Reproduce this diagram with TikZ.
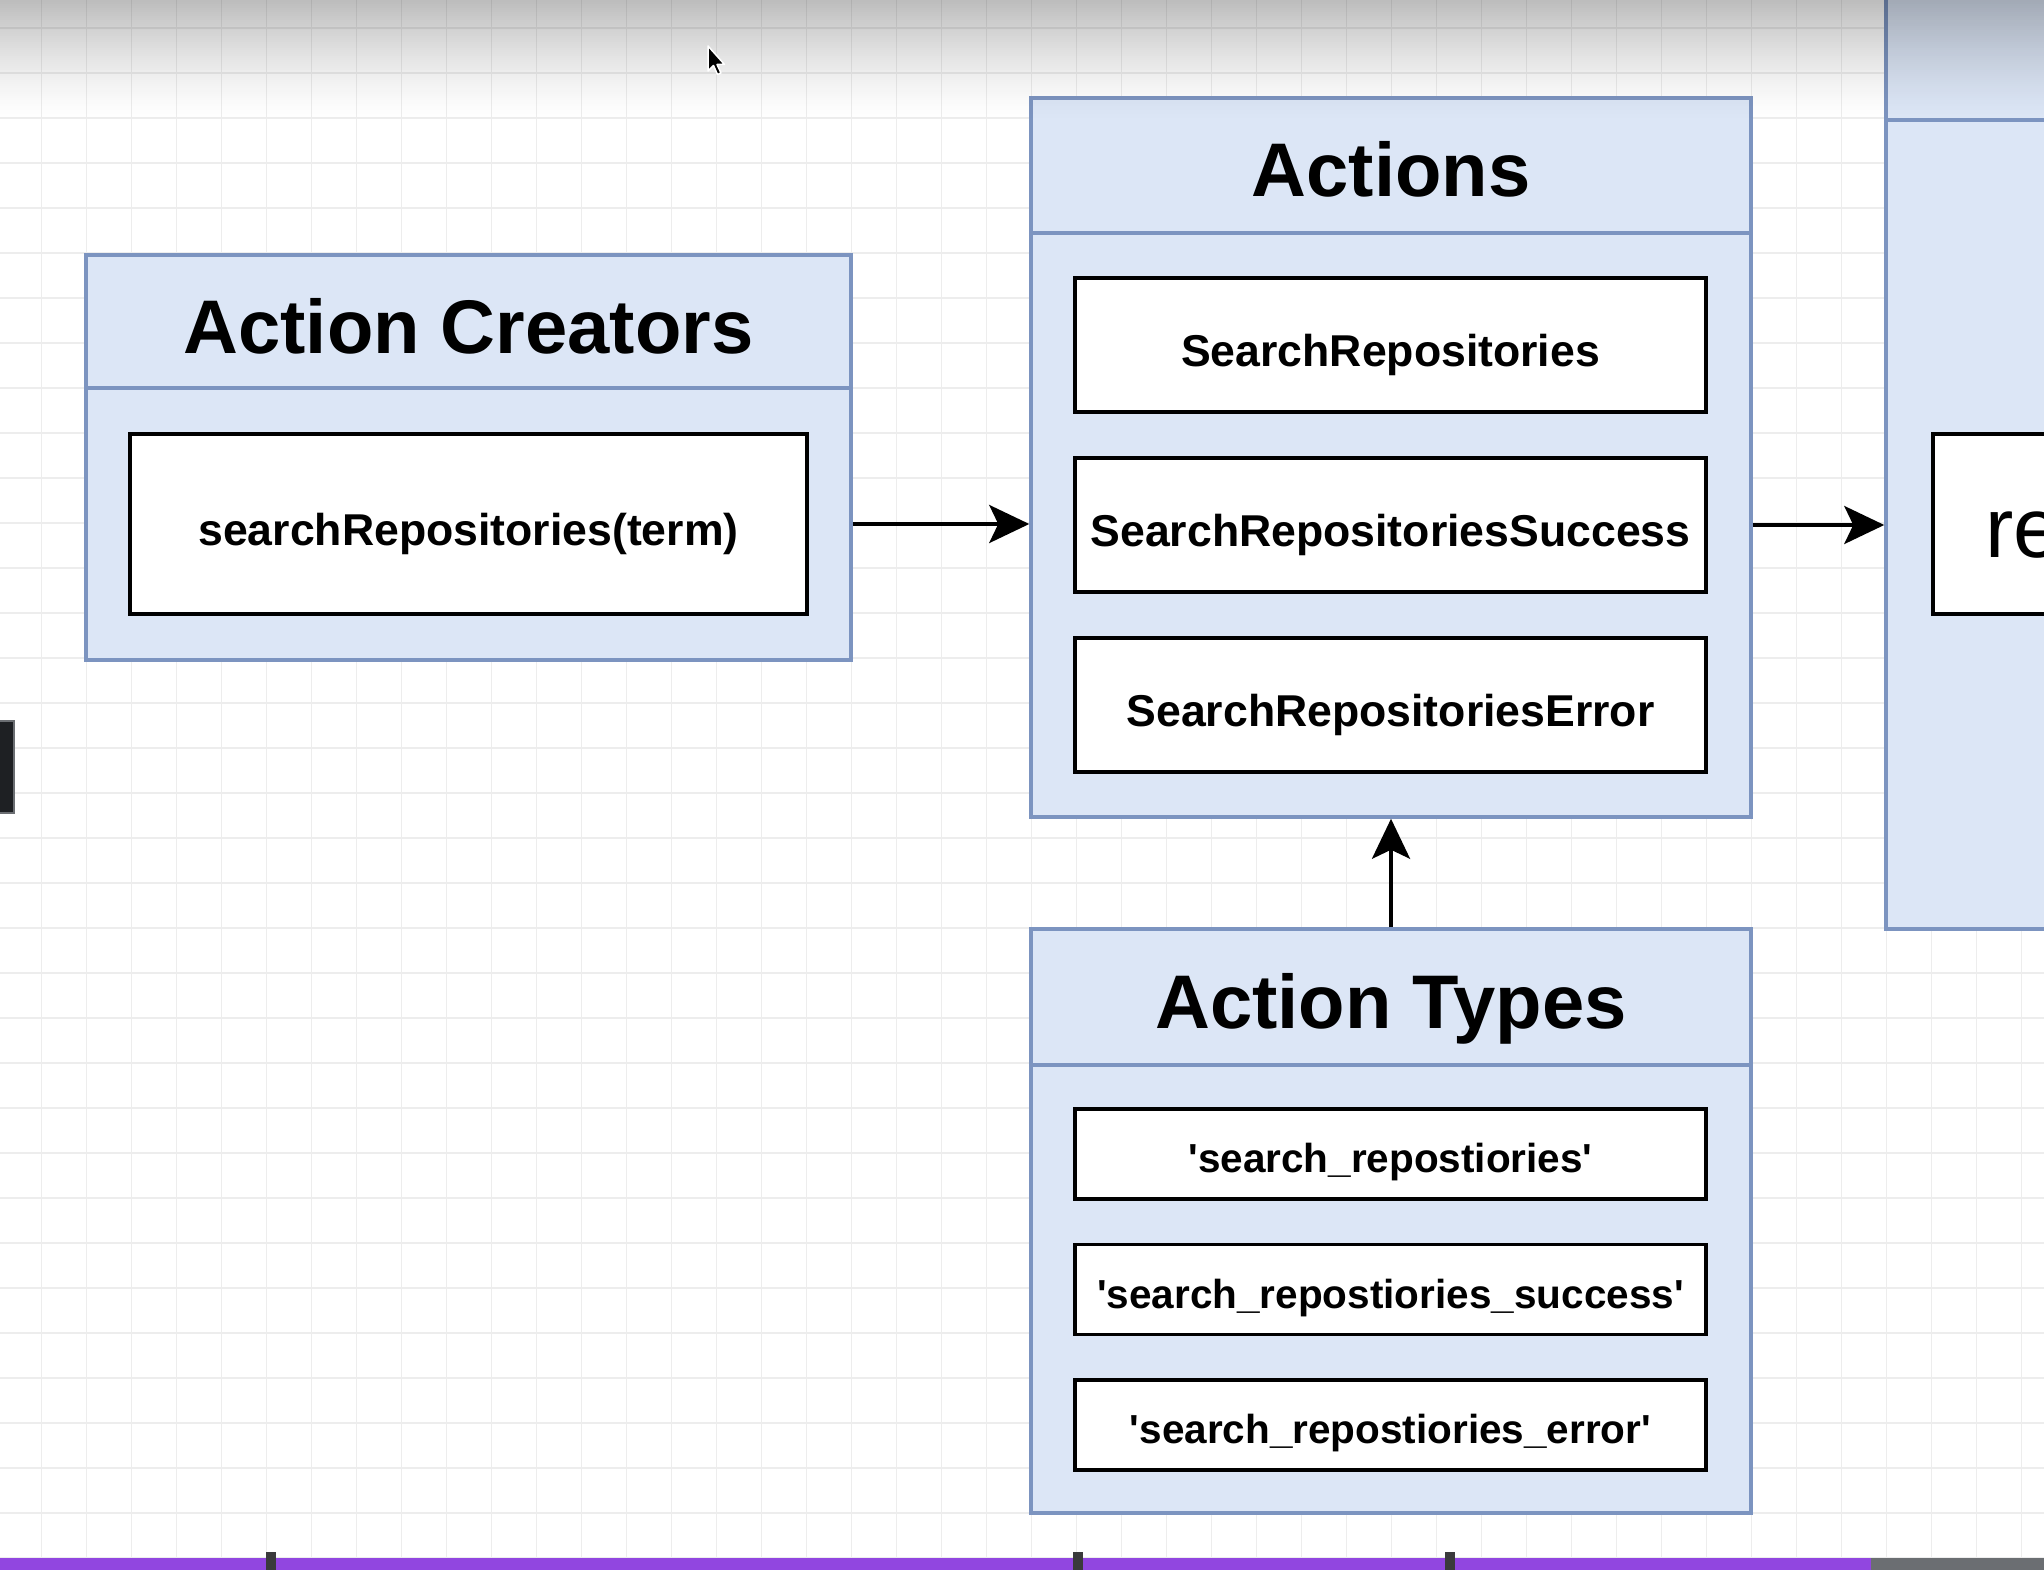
\documentclass[tikz,border=0pt]{standalone}
\usepackage{fontspec}
\setmainfont{Liberation Sans}[Ligatures=TeXOff]
\usetikzlibrary{arrows.meta}
\definecolor{boxfill}{HTML}{DCE6F6}
\definecolor{boxline}{HTML}{7C94C0}
\definecolor{gridc}{HTML}{EDEDED}
\definecolor{purplebar}{HTML}{9146E0}
\definecolor{barGray}{HTML}{6B6E72}
\definecolor{tickc}{HTML}{3A3A3C}
\definecolor{darkblk}{HTML}{1E2023}
\begin{document}
\begin{tikzpicture}[x=1pt,y=-1pt,
  panel/.style={draw=boxline, fill=boxfill, line width=3.5pt, inner sep=0pt, rectangle},
  header/.style={draw=boxline, line width=3.5pt, inner sep=0pt, text height=63pt, text depth=0pt, font=\fontsize{76}{80}\selectfont\bfseries},
  itembox/.style={draw=black, fill=white, line width=3.5pt, inner sep=0pt, text height=42pt, text depth=0pt, font=\fontsize{44.6}{50}\selectfont\bfseries},
  typebox/.style={itembox, text height=37pt, font=\fontsize{40.5}{46}\selectfont\bfseries},
  arr/.style={line width=3.5pt, -{Stealth[length=40pt,width=38pt,inset=9pt]}},
]
\useasboundingbox (0,0) rectangle (2044,1570);
\clip (0,0) rectangle (2044,1570);
\fill[white] (0,0) rectangle (2044,1570);
% grid
\foreach \k in {0,...,44} \draw[gridc, line width=1.5pt] ({41.7+45*\k},0) -- ({41.7+45*\k},1570);
\foreach \k in {0,...,34} \draw[gridc, line width=1.5pt] (0,{28+45*\k}) -- (2044,{28+45*\k});

% Action Creators
\node[panel, minimum width=765pt, minimum height=405pt] (ac) at (468.5,457.5) {};
\node[header, minimum width=765pt, minimum height=133pt] (act) at (468.5,321.5) {Action Creators};
\node[itembox, minimum width=677pt, minimum height=180pt] (ci) at (468.5,524) {searchRepositories(term)};

% Actions
\node[panel, minimum width=720pt, minimum height=719pt] (ab) at (1391,457.5) {};
\node[header, minimum width=720pt, minimum height=135pt] (abt) at (1391,165.5) {Actions};
\node[itembox, minimum width=631pt, minimum height=134pt] (ai1) at (1390.5,345) {SearchRepositories};
\node[itembox, minimum width=631pt, minimum height=134pt] (ai2) at (1390.5,525) {SearchRepositoriesSuccess};
\node[itembox, minimum width=631pt, minimum height=134pt] (ai3) at (1390.5,705) {SearchRepositoriesError};

% Action Types
\node[panel, minimum width=720pt, minimum height=584pt] (tb) at (1391,1221) {};
\node[header, minimum width=720pt, minimum height=136pt] (tbt) at (1391,997) {Action Types};
\node[typebox, minimum width=631pt, minimum height=90pt] (ti1) at (1390.5,1154) {'search\_repostiories'};
\node[typebox, minimum width=631pt, minimum height=90pt] (ti2) at (1390.5,1289.5) {'search\_repostiories\_success'};
\node[typebox, minimum width=631pt, minimum height=90pt] (ti3) at (1390.5,1425) {'search\_repostiories\_error'};

% right partial box
\node[panel, minimum width=300pt, minimum height=1030pt] (rb) at (2036,414) {};
\node[header, minimum width=300pt, minimum height=221pt] (rbt) at (2036,9.5) {};
\node[itembox, minimum width=250pt, minimum height=180pt, anchor=west] (ri) at (1931,524) {};
\node[anchor=base west, inner sep=0pt, font=\fontsize{85}{90}\selectfont] (rtext) at (1985,557) {re};

% connectors
\draw[arr] (ac.east |- ci.center) -- (ab.west |- ci.center);
\draw[arr] (ab.east |- ai2.center) -- (rb.west |- ai2.center);
\draw[arr] (tb.north) -- (ab.south);

% left dark element
\node[draw=barGray, fill=darkblk, line width=2pt, minimum width=24pt, minimum height=92pt, inner sep=0pt] (blk) at (2,767) {};

% bottom bar
\fill[purplebar] (0,1558) rectangle (1871,1570);
\fill[barGray] (1871,1558) rectangle (2044,1570);
\foreach \t in {271,1078,1450} \fill[tickc] ({\t-5},1552) rectangle ({\t+5},1570);

% top shading
\foreach \i in {0,...,59} {
  \pgfmathsetmacro\op{0.26*(1-\i/60)^1.4}
  \fill[black, opacity=\op] (0,{2*\i}) rectangle (2044,{2*\i+2});
}

% cursor
\filldraw[black, draw=white, line width=1.5pt, line join=round] (708,46) -- ++(0,25) -- ++(5.5,-5.5) -- ++(4,9) -- ++(3.5,-1.5) -- ++(-4,-8.5) -- ++(7.5,0) -- cycle;
\end{tikzpicture}
\end{document}
